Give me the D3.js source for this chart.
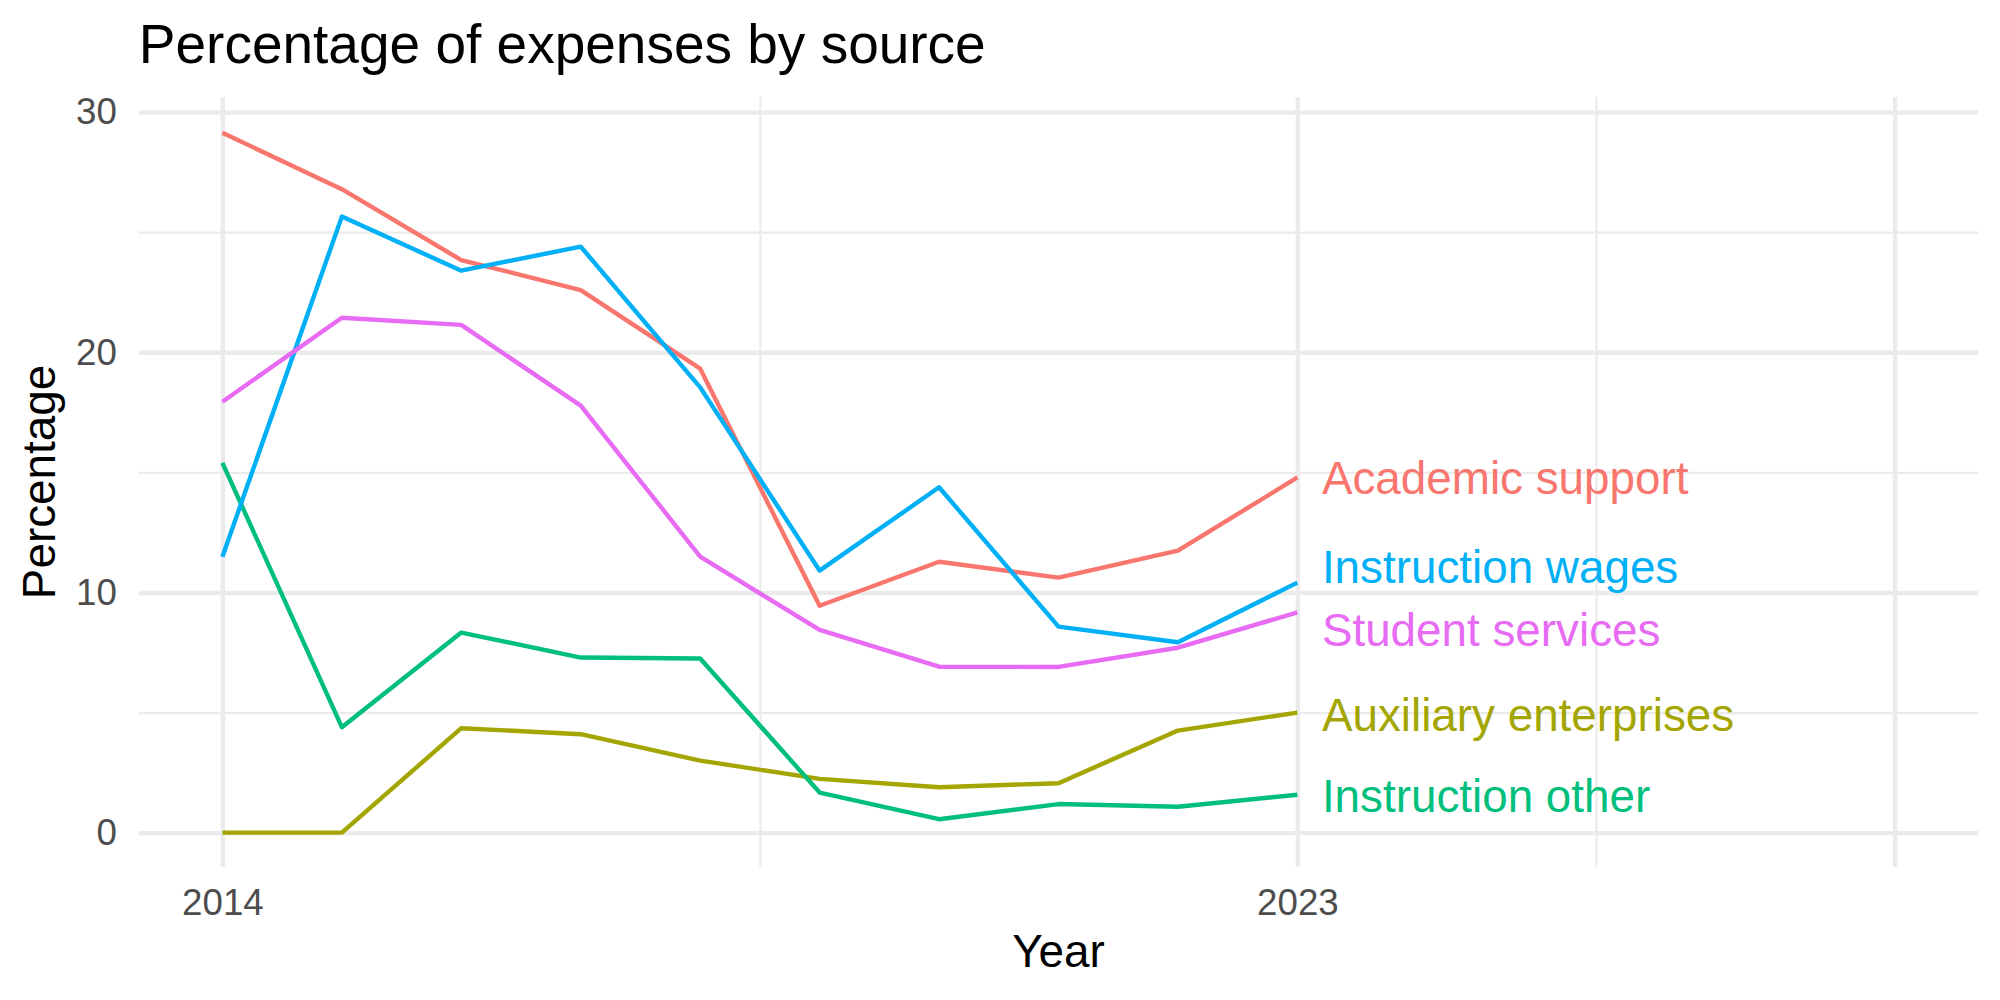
<!DOCTYPE html>
<html>
<head>
<meta charset="utf-8">
<script src="https://cdn.jsdelivr.net/npm/d3@7"></script>
<style>
  body { margin: 0; background: #fff; }
  text { font-family: "Liberation Sans", Arial, Helvetica, sans-serif; }
  .grid line { stroke: #EBEBEB; }
  .grid path { display: none; }
  .axis path { display: none; }
  .axis text { fill: #4D4D4D; font-size: 36.7px; }
</style>
</head>
<body>
<script>

// Data
var years = [2014, 2015, 2016, 2017, 2018, 2019, 2020, 2021, 2022, 2023];
var categories = ["Academic support", "Auxiliary enterprises", "Instruction other", "Instruction wages", "Student services"];
var academicSupport = [29.14, 26.79, 23.84, 22.59, 19.32, 9.45, 11.28, 10.62, 11.74, 14.79];
var auxiliaryEnterprises = [0, 0, 4.35, 4.10, 3.00, 2.24, 1.89, 2.06, 4.25, 5.00];
var instructionOther = [15.40, 4.39, 8.33, 7.29, 7.25, 1.67, 0.56, 1.19, 1.08, 1.58];
var instructionWages = [11.49, 25.65, 23.40, 24.40, 18.54, 10.91, 14.38, 8.58, 7.93, 10.41];
var studentServices = [17.94, 21.44, 21.14, 17.78, 11.49, 8.44, 6.91, 6.90, 7.70, 9.17];
// where the end labels sit (in percent) after being pushed apart
var labelAt = [14.77, 4.93, 1.54, 11.07, 8.47];

// axis breaks
var xLabelTicks = [2014, 2023];
var xMajor = [2014, 2023, 2028];
var xMinor = [2018.5, 2025.5];
var yMajor = [0, 10, 20, 30];
var yMinor = [5, 15, 25];

var seriesValues = [academicSupport, auxiliaryEnterprises, instructionOther, instructionWages, studentServices];
var colors = ["#F8766D", "#A3A500", "#00BF7D", "#00B0F6", "#E76BF3"];

// SVG Size
var panel = {left: 138.8, right: 1978.2, top: 97, bottom: 867};
var width = panel.right - panel.left;
var height = panel.bottom - panel.top;

var svg = d3.select("body").append("svg")
	.attr("width", 2000)
	.attr("height", 1000);

svg.append("rect")
	.attr("width", 2000)
	.attr("height", 1000)
	.attr("fill", "#fff");

// scales (ggplot-ish expansion on both axes)
var x = d3.scaleLinear()
	.domain([2013.3, 2028.7])
	.range([panel.left, panel.right]);

var y = d3.scaleLinear()
	.domain([-1.43, 30.63])
	.range([panel.bottom, panel.top]);

var color = d3.scaleOrdinal().domain(categories).range(colors);

// gridlines: minor first, then major
svg.append("g")
	.attr("class", "grid")
	.attr("transform", "translate(" + panel.left + ",0)")
	.call(d3.axisLeft(y).tickValues(yMinor).tickSize(-width).tickFormat(""))
	.selectAll("line").attr("stroke-width", 2.2);

svg.append("g")
	.attr("class", "grid")
	.attr("transform", "translate(0," + panel.bottom + ")")
	.call(d3.axisBottom(x).tickValues(xMinor).tickSize(-height).tickFormat(""))
	.selectAll("line").attr("stroke-width", 2.2);

svg.append("g")
	.attr("class", "grid")
	.attr("transform", "translate(" + panel.left + ",0)")
	.call(d3.axisLeft(y).tickValues(yMajor).tickSize(-width).tickFormat(""))
	.selectAll("line").attr("stroke-width", 4.4);

svg.append("g")
	.attr("class", "grid")
	.attr("transform", "translate(0," + panel.bottom + ")")
	.call(d3.axisBottom(x).tickValues(xMajor).tickSize(-height).tickFormat(""))
	.selectAll("line").attr("stroke-width", 4.4);

// tick labels
var yAxis = svg.append("g")
	.attr("class", "axis")
	.attr("transform", "translate(" + panel.left + ",0)")
	.call(d3.axisLeft(y).tickValues(yMajor).tickSize(0).tickPadding(22));
yAxis.selectAll("line").remove();

var xAxis = svg.append("g")
	.attr("class", "axis")
	.attr("transform", "translate(0," + panel.bottom + ")")
	.call(d3.axisBottom(x).tickValues(xLabelTicks).tickSize(0).tickPadding(22).tickFormat(d3.format("d")));
xAxis.selectAll("line").remove();

// lines
var line = d3.line()
	.x(function(d, i) { return x(years[i]); })
	.y(function(d) { return y(d); });

svg.selectAll(".series")
	.data(seriesValues)
	.enter()
	.append("path")
	.attr("class", "series")
	.attr("d", line)
	.attr("fill", "none")
	.attr("stroke", function(d, i) { return color(categories[i]); })
	.attr("stroke-width", 4.4)
	.attr("stroke-linejoin", "round")
	.attr("stroke-linecap", "butt");

// end labels
var lastYear = years[years.length - 1];
svg.selectAll(".end-label")
	.data(categories)
	.enter()
	.append("text")
	.attr("class", "end-label")
	.attr("x", x(lastYear) + 24.5)
	.attr("y", function(d, i) { return y(labelAt[i]); })
	.attr("dy", "0.36em")
	.attr("font-size", "45.8px")
	.attr("fill", function(d) { return color(d); })
	.text(function(d) { return d; });

// titles
svg.append("text")
	.attr("x", panel.left)
	.attr("y", 62.7)
	.attr("font-size", "55px")
	.attr("fill", "#000")
	.text("Percentage of expenses by source");

svg.append("text")
	.attr("x", (panel.left + panel.right) / 2)
	.attr("y", 967)
	.attr("text-anchor", "middle")
	.attr("font-size", "45.8px")
	.attr("fill", "#000")
	.text("Year");

svg.append("text")
	.attr("transform", "translate(55," + (panel.top + panel.bottom) / 2 + ") rotate(-90)")
	.attr("text-anchor", "middle")
	.attr("font-size", "45.8px")
	.attr("fill", "#000")
	.text("Percentage");

</script>
</body>
</html>
